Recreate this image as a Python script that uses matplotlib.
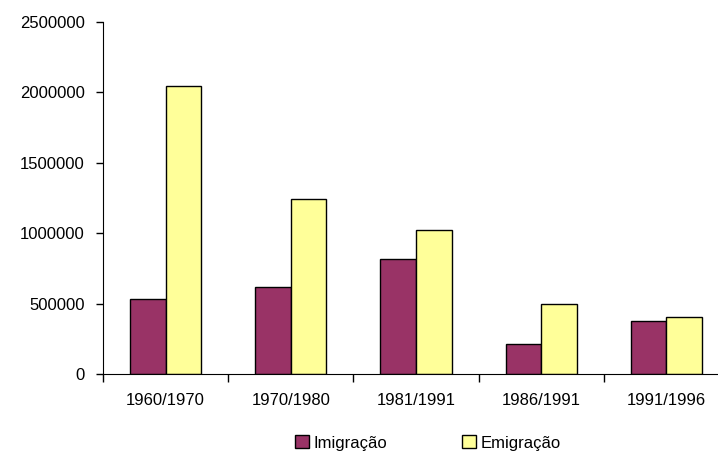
import matplotlib.pyplot as plt
import numpy as np
from matplotlib.patches import Patch

periods = ["1960/1970", "1970/1980", "1981/1991", "1986/1991", "1991/1996"]
imigracao = [530000, 615000, 815000, 212000, 377000]
emigracao = [2046000, 1245000, 1025000, 500000, 403000]

plt.rcParams["font.family"] = ["Liberation Sans", "DejaVu Sans"]
plt.rcParams["font.size"] = 12

fig = plt.figure(figsize=(7.18, 4.55), dpi=100)
# plot area runs slightly past the right edge, as in the source image
ax = fig.add_axes([103 / 718, 1 - 374 / 455, (729 - 103) / 718, (374 - 22) / 455])

x = np.arange(len(periods))
w = 0.284
ax.bar(x - w / 2, imigracao, w, color="#993366", edgecolor="black", linewidth=1, label="Imigração")
ax.bar(x + w / 2, emigracao, w, color="#FFFF99", edgecolor="black", linewidth=1, label="Emigração")

ax.set_xlim(-0.5, len(periods) - 0.5)
ax.set_ylim(0, 2500000)
ax.set_yticks(np.arange(0, 2500001, 500000))
ax.set_yticklabels([str(v) for v in range(0, 2500001, 500000)])

ax.set_xticks(x)
ax.set_xticklabels(periods)
ax.set_xticks(np.arange(-0.5, len(periods), 1), minor=True)
ax.tick_params(axis="x", which="major", length=0, pad=14)
ax.tick_params(axis="x", which="minor", length=6, width=1, direction="out")
ax.tick_params(axis="y", length=5, width=1, direction="out", pad=8)

for s in ["top", "right"]:
    ax.spines[s].set_visible(False)
ax.spines["left"].set_color("black")
ax.spines["bottom"].set_color("black")

handles = [Patch(facecolor="#993366", edgecolor="black", label="Imigração"),
           Patch(facecolor="#FFFF99", edgecolor="black", label="Emigração")]
fig.legend(handles=handles, loc="center", bbox_to_anchor=(428 / 718, 1 - 443 / 455),
           ncol=2, frameon=False, handlelength=0.8, handleheight=0.8,
           handletextpad=0.3, columnspacing=4.5, fontsize=12)

fig.savefig("out.png", dpi=100)
